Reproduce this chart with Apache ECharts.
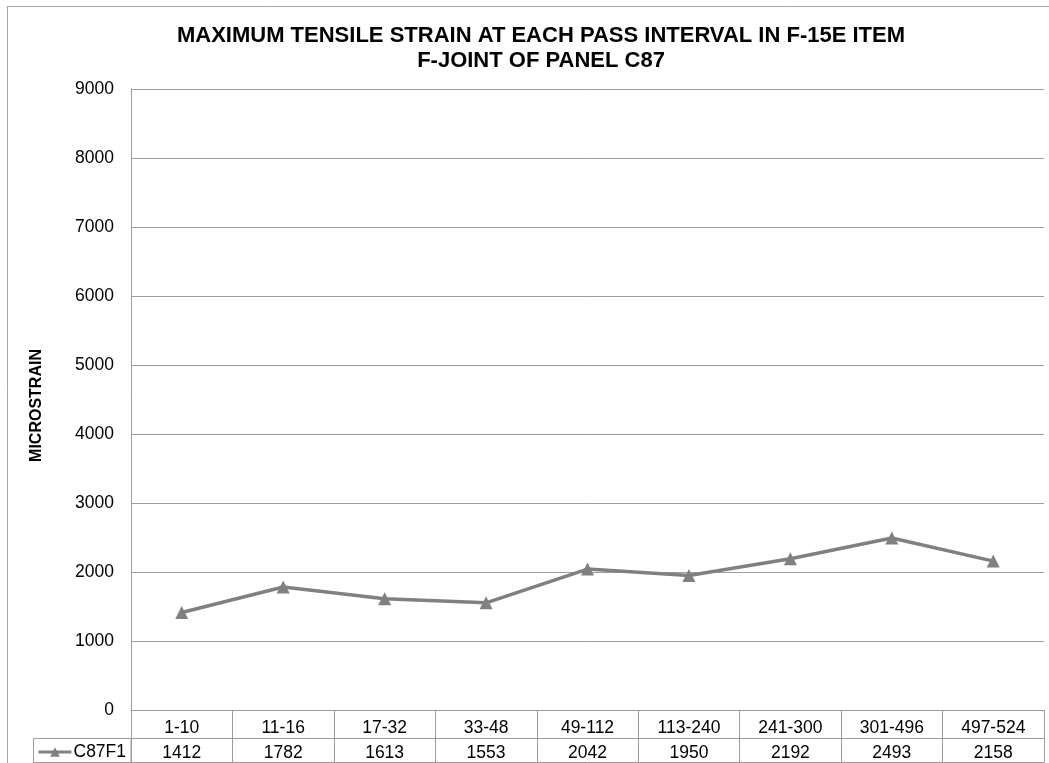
<!DOCTYPE html>
<html>
<head>
<meta charset="utf-8">
<script src="https://cdn.jsdelivr.net/npm/echarts@6/dist/echarts.min.js"></script>
<style>
html,body{margin:0;padding:0;background:#fff;}
#chart{width:1049px;height:763px;}
</style>
</head>
<body>
<div id="chart"></div>
<script>
const categories = ['1-10','11-16','17-32','33-48','49-112','113-240','241-300','301-496','497-524'];
const seriesName = 'C87F1';
const values = [1412,1782,1613,1553,2042,1950,2192,2493,2158];
const titleText = 'MAXIMUM TENSILE STRAIN AT EACH PASS INTERVAL IN F-15E ITEM\nF-JOINT OF PANEL C87';
const yName = 'MICROSTRAIN';

const FONT = '"Liberation Sans", Arial, sans-serif';
const GRAY = '#9c9c9c';
const LINE = '#808080';
const FS = 17.5;

const chart = echarts.init(document.getElementById('chart'), null, {renderer:'canvas'});
chart.setOption({
  animation: false,
  backgroundColor: '#fff',
  title: {
    text: titleText,
    left: 536, textAlign: 'center',
    top: 18,
    textStyle: {fontFamily: FONT, fontWeight: 'bold', fontSize: 22, lineHeight: 25, color: '#000'}
  },
  legend: {
    data: [seriesName],
    left: 37, top: 743,
    itemWidth: 33, itemHeight: 12, itemGap: 0,
    padding: 0,
    lineStyle: {width: 3},
    textStyle: {fontFamily: FONT, fontSize: FS, color: '#000', padding: [0,0,0,-3]}
  },
  grid: {left: 131, right: 5, top: 89, bottom: 53, containLabel: false},
  xAxis: [{
    type: 'category',
    data: categories,
    boundaryGap: true,
    axisLine: {show: true, lineStyle: {color: GRAY, width: 1}},
    axisTick: {show: true, length: 52, interval: 0, lineStyle: {color: GRAY, width: 1}},
    axisLabel: {interval: 0, margin: 9, fontFamily: FONT, fontSize: FS, color: '#000'},
    splitLine: {show: false}
  },{
    type: 'category',
    data: values.map(String),
    position: 'bottom',
    offset: 28,
    boundaryGap: true,
    axisLine: {show: true, lineStyle: {color: GRAY, width: 1}},
    axisTick: {show: false},
    axisLabel: {interval: 0, margin: 6, fontFamily: FONT, fontSize: FS, color: '#000'},
    splitLine: {show: false}
  },{
    type: 'category',
    data: categories,
    position: 'bottom',
    offset: 52,
    boundaryGap: true,
    axisLine: {show: true, lineStyle: {color: GRAY, width: 1}},
    axisTick: {show: false},
    axisLabel: {show: false},
    splitLine: {show: false}
  }],
  yAxis: {
    type: 'value',
    min: 0, max: 9000, interval: 1000,
    name: yName,
    nameLocation: 'middle',
    nameGap: 86,
    nameRotate: 90,
    nameTextStyle: {fontFamily: FONT, fontWeight: 'bold', fontSize: 16, color: '#000', padding: [0,12,0,0]},
    axisLine: {show: true, lineStyle: {color: GRAY, width: 1}},
    axisTick: {show: false},
    axisLabel: {margin: 17, fontFamily: FONT, fontSize: FS, color: '#000', formatter: v => String(v)},
    splitLine: {show: true, lineStyle: {color: GRAY, width: 1}}
  },
  graphic: [
    {type: 'line', shape: {x1: 7.5, y1: 6, x2: 7.5, y2: 763}, style: {stroke: '#a8a8a8', lineWidth: 1}, silent: true},
    {type: 'line', shape: {x1: 7, y1: 6.5, x2: 1049, y2: 6.5}, style: {stroke: '#a8a8a8', lineWidth: 1}, silent: true},
    {type: 'rect', shape: {x: 33.5, y: 738.5, width: 97.5, height: 24}, style: {fill: 'none', stroke: GRAY, lineWidth: 1}, silent: true}
  ],
  series: [{
    name: seriesName,
    type: 'line',
    data: values,
    symbol: 'triangle',
    symbolSize: 13,
    lineStyle: {color: LINE, width: 3.5},
    itemStyle: {color: LINE},
    label: {show: false}
  }]
});
</script>
</body>
</html>
